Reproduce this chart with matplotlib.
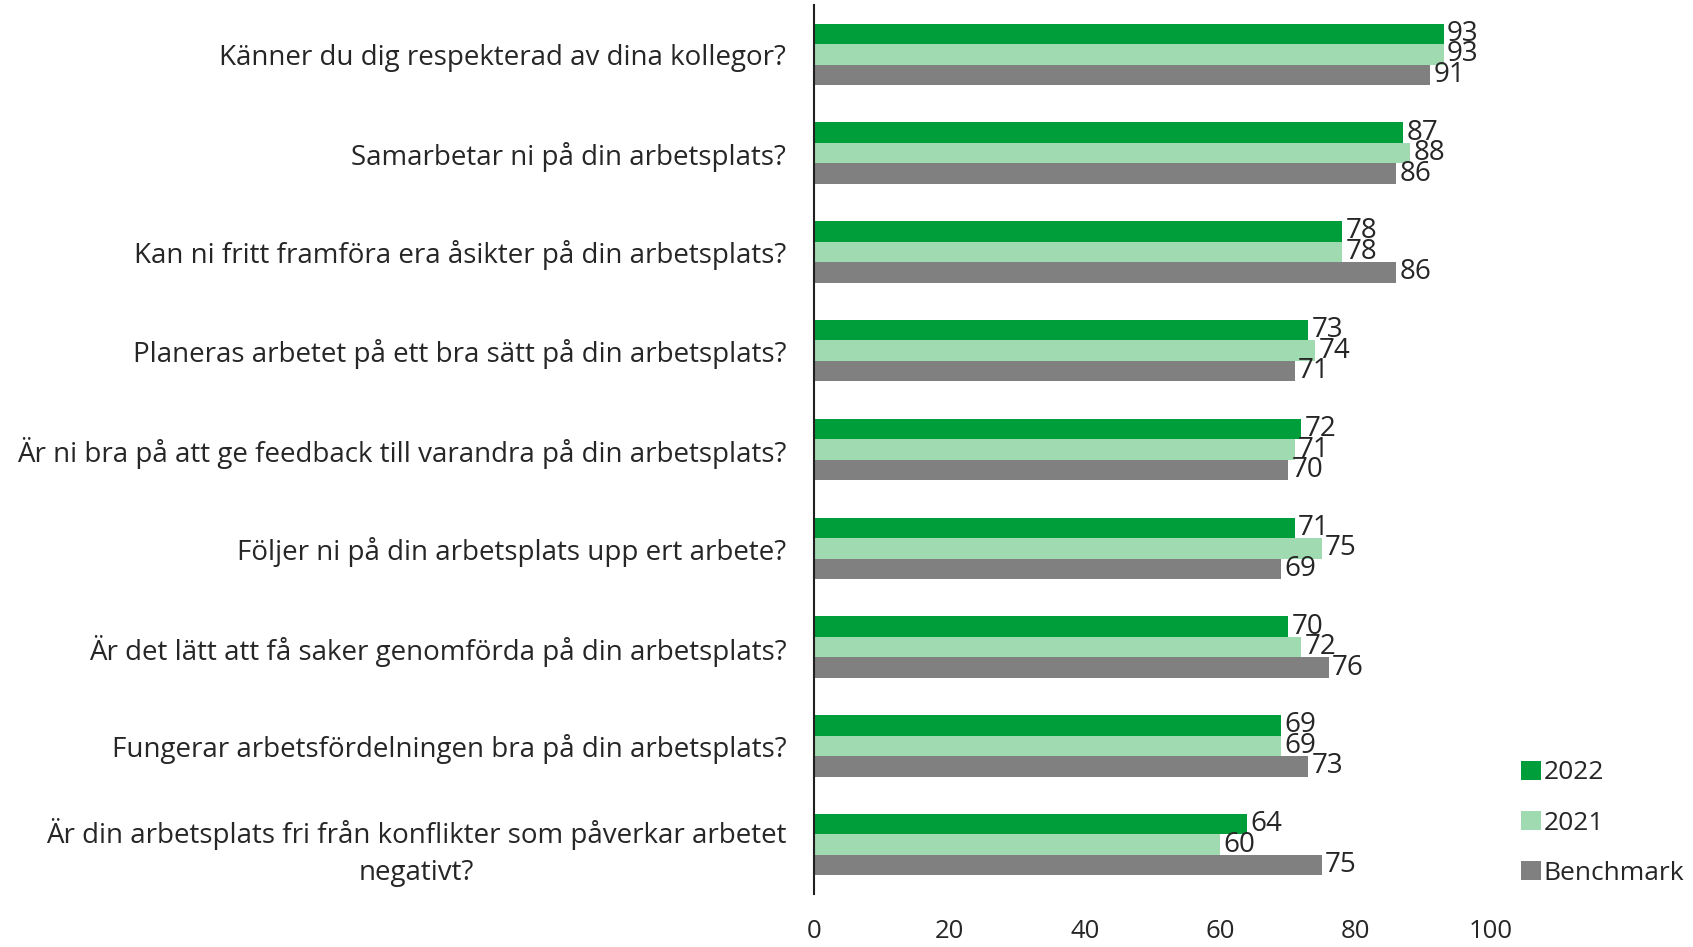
import matplotlib
matplotlib.use("Agg")
import matplotlib.pyplot as plt
import numpy as np

categories = [
    "Känner du dig respekterad av dina kollegor?",
    "Samarbetar ni på din arbetsplats?",
    "Kan ni fritt framföra era åsikter på din arbetsplats?",
    "Planeras arbetet på ett bra sätt på din arbetsplats?",
    "Är ni bra på att ge feedback till varandra på din arbetsplats?",
    "Följer ni på din arbetsplats upp ert arbete?",
    "Är det lätt att få saker genomförda på din arbetsplats?",
    "Fungerar arbetsfördelningen bra på din arbetsplats?",
    "Är din arbetsplats fri från konflikter som påverkar arbetet\nnegativt?",
]
v2022 = [93, 87, 78, 73, 72, 71, 70, 69, 64]
v2021 = [93, 88, 78, 74, 71, 75, 72, 69, 60]
bench = [91, 86, 86, 71, 70, 69, 76, 73, 75]
series_names = ["2022", "2021", "Benchmark"]
colors = ["#009E3A", "#A0DAB0", "#808080"]
xticks = [0, 20, 40, 60, 80, 100]

plt.rcParams['font.family'] = ['Open Sans', 'DejaVu Sans']
FS_CAT = 20
FS_VAL = 20
FS_TICK = 18.5
FS_LEG = 19
TXT = "#262626"

fig = plt.figure(figsize=(16.93, 9.47), dpi=100)
ax = fig.add_axes([814/1693, 1-894/947, (1491-814)/1693, (894-5)/947])

y = np.arange(len(categories))
w = 0.207
handles = []
for k, (vals, name, col) in enumerate(zip([v2022, v2021, bench], series_names, colors)):
    pos = y + (k - 1) * w
    b = ax.barh(pos, vals, height=w, color=col, label=name)
    handles.append(b)
    for p, v in zip(pos, vals):
        ax.text(v + 0.5, p, str(v), va='center', ha='left', fontsize=FS_VAL, color=TXT)

ax.set_xlim(0, 100)
ax.set_ylim(len(categories) - 0.5, -0.5)
ax.set_yticks(y)
ax.set_yticklabels(categories, fontsize=FS_CAT, color=TXT, multialignment='center',
                   linespacing=1.4)
ax.set_xticks(xticks)
ax.set_xticklabels([str(t) for t in xticks], fontsize=FS_TICK, color=TXT)
ax.tick_params(axis='both', length=0)
ax.tick_params(axis='y', pad=20)
ax.tick_params(axis='x', pad=18)
for s in ['top', 'right', 'bottom']:
    ax.spines[s].set_visible(False)
ax.spines['left'].set_color('#202020')
ax.spines['left'].set_linewidth(1.5)

fig.legend(handles=handles, labels=series_names, loc='center left',
           bbox_to_anchor=(1521/1693, 1-823/947), frameon=False, fontsize=FS_LEG,
           borderpad=0, borderaxespad=0,
           handlelength=0.75, handleheight=0.75, handletextpad=0.1, labelspacing=0.95,
           labelcolor=TXT)

fig.savefig("out.png", dpi=100)
